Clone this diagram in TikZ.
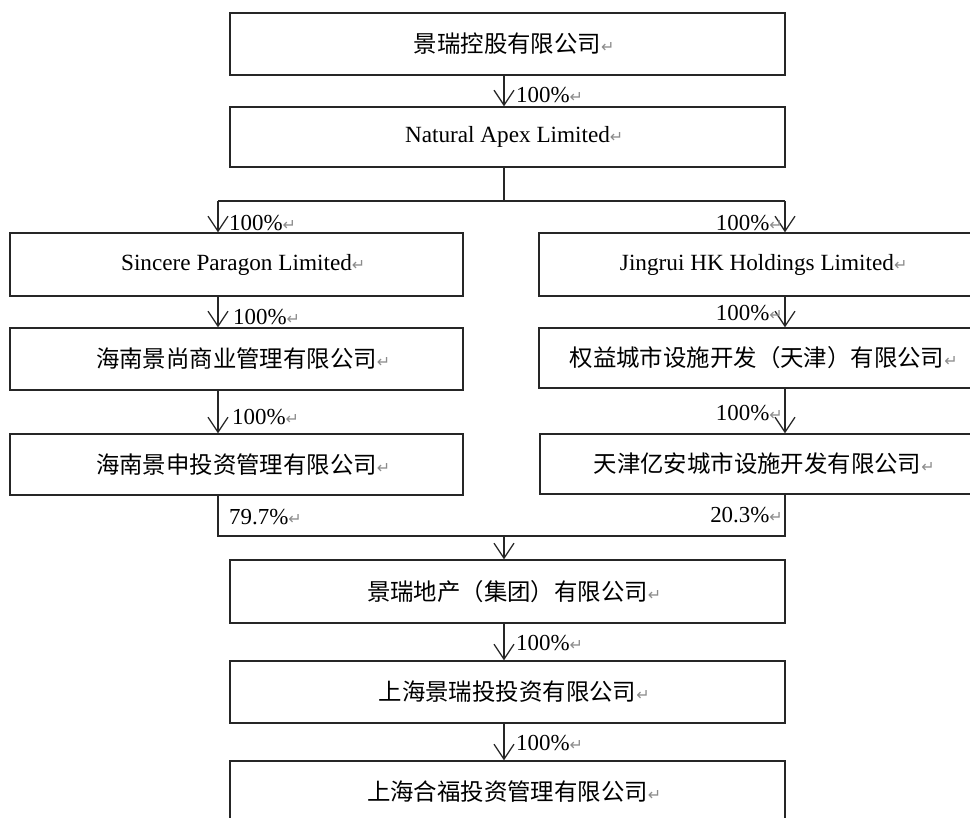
\documentclass[tikz,border=0pt]{standalone}
\usepackage{fontspec}
\setmainfont{Liberation Serif}
\newfontfamily\cjkf{Noto Sans CJK SC}
\newfontfamily\symf{DejaVu Sans}
\usetikzlibrary{arrows.meta}
\newcommand{\pmk}{{\symf\fontsize{16}{16}\selectfont\color{black!45}↵}}
\newcommand{\pmr}{\rlap{\pmk}}
\tikzset{
  box/.style={draw=black!85, line width=1.3bp, rectangle, inner sep=0pt,
    font=\fontsize{23.5}{26}\selectfont\cjkf},
  enbox/.style={box, font=\fontsize{23.3}{26}\selectfont},
  lab/.style={inner sep=0pt, font=\fontsize{23}{26}\selectfont},
  ln/.style={draw=black!85, line width=1.3bp},
  arr/.style={ln, -{Straight Barb[length=15bp,width=20bp]}},
}
\begin{document}
\begin{tikzpicture}[x=1bp, y=-1bp]
\useasboundingbox (0,0) rectangle (970,818);
\clip (0,0) rectangle (970,818);
\fill[white] (0,0) rectangle (970,818);
% junction coordinates
\coordinate (sp) at (504,0);
\coordinate (j1) at (504,201);
\coordinate (jl) at (218,201);
\coordinate (jr) at (785,201);
\coordinate (kl) at (218,536);
\coordinate (km) at (504,536);
\coordinate (kr) at (785,536);
% boxes
\node[box, minimum width=555bp, minimum height=62bp] (jrkg) at (507.5,44) {景瑞控股有限公司\pmr};
\node[enbox, minimum width=555bp, minimum height=60bp] (nal) at (507.5,137) {Natural Apex Limited\pmr};
\node[enbox, minimum width=453bp, minimum height=63bp] (spl) at (236.5,264.5) {Sincere Paragon Limited\pmr};
\node[enbox, minimum width=436bp, minimum height=63bp] (jhk) at (757,264.5) {Jingrui HK Holdings Limited\pmr};
\node[box, minimum width=453bp, minimum height=62bp] (hnjs) at (236.5,359) {海南景尚商业管理有限公司\pmr};
\node[box, minimum width=436bp, minimum height=60bp] (qy) at (757,358) {权益城市设施开发（天津）有限公司\pmr};
\node[box, minimum width=453bp, minimum height=61bp] (hnjsh) at (236.5,464.5) {海南景申投资管理有限公司\pmr};
\node[box, minimum width=435bp, minimum height=60bp] (tjya) at (757.5,464) {天津亿安城市设施开发有限公司\pmr};
\node[box, minimum width=555bp, minimum height=63bp] (jrdc) at (507.5,591.5) {景瑞地产（集团）有限公司\pmr};
\node[box, minimum width=555bp, minimum height=62bp] (shjr) at (507.5,692) {上海景瑞投投资有限公司\pmr};
\node[box, minimum width=555bp, minimum height=62bp] (shhf) at (507.5,792) {上海合福投资管理有限公司\pmr};
% connectors
\draw[arr] (jrkg.south -| sp) -- (nal.north -| sp);
\draw[ln] (nal.south -| j1) -- (j1);
\draw[ln] (jl) -- (jr);
\draw[arr] (jl) -- (jl |- spl.north);
\draw[arr] (jr) -- (jr |- jhk.north);
\draw[arr] (jl |- spl.south) -- (jl |- hnjs.north);
\draw[arr] (jr |- jhk.south) -- (jr |- qy.north);
\draw[arr] (jl |- hnjs.south) -- (jl |- hnjsh.north);
\draw[arr] (jr |- qy.south) -- (jr |- tjya.north);
\draw[ln] (jl |- hnjsh.south) -- (kl) -- (kr) -- (jr |- tjya.south);
\draw[arr] (km) -- (km |- jrdc.north);
\draw[arr] (jrdc.south -| sp) -- (shjr.north -| sp);
\draw[arr] (shjr.south -| sp) -- (shhf.north -| sp);
% labels
\node[lab, anchor=west] (l1) at (516,95) {100\%\pmk};
\node[lab, anchor=west] (l2l) at (229,223) {100\%\pmk};
\node[lab, anchor=east] (l2r) at (783,223) {100\%\pmk};
\node[lab, anchor=west] (l3l) at (233,317) {100\%\pmk};
\node[lab, anchor=east] (l3r) at (783,313) {100\%\pmk};
\node[lab, anchor=west] (l4l) at (232,417) {100\%\pmk};
\node[lab, anchor=east] (l4r) at (783,413) {100\%\pmk};
\node[lab, anchor=west] (l5l) at (229,517) {79.7\%\pmk};
\node[lab, anchor=east] (l5r) at (783,515) {20.3\%\pmk};
\node[lab, anchor=west] (l6) at (516,643) {100\%\pmk};
\node[lab, anchor=west] (l7) at (516,743) {100\%\pmk};
\end{tikzpicture}
\end{document}
